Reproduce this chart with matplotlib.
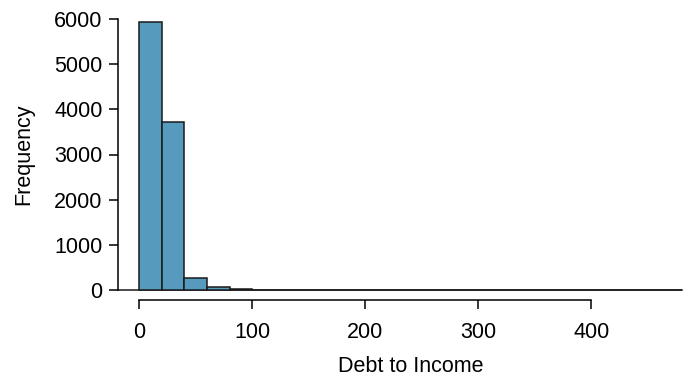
import numpy as np
import matplotlib
matplotlib.use('Agg')
import matplotlib.pyplot as plt

# bins of width 20, 0 .. 480
bin_edges = list(range(0, 500, 20))
counts = [5933, 3726, 272, 70, 22, 10, 6, 4, 3, 2, 2, 1,
          1, 1, 1, 0, 1, 0, 0, 0, 0, 0, 0, 1]
x_ticks = [0, 100, 200, 300, 400]
y_ticks = [0, 1000, 2000, 3000, 4000, 5000, 6000]

plt.rcParams['font.family'] = ['Liberation Sans', 'DejaVu Sans']

W, H = 691, 379
fig = plt.figure(figsize=(W / 100, H / 100), dpi=100)
left, right, top, bottom = 118, 683, 19, 290
ax = fig.add_axes([left / W, 1 - bottom / H, (right - left) / W, (bottom - top) / H])

lefts = np.array(bin_edges[:-1])
ax.bar(lefts, counts, width=20, align='edge', color='#569BBD',
       edgecolor='#1a1a1a', linewidth=1.1, clip_on=False, zorder=3)
ax.plot([-18.6, bin_edges[-1]], [0, 0], color='#1a1a1a', lw=1.1, clip_on=False, zorder=2)

ax.set_xlim(-18.6, 481)
ax.set_ylim(0, 6000)

for s in ['top', 'right']:
    ax.spines[s].set_visible(False)
ax.spines['bottom'].set_position(('outward', 7.2))
ax.spines['bottom'].set_bounds(0, 400)
ax.spines['left'].set_bounds(0, 6000)
for s in ['bottom', 'left']:
    ax.spines[s].set_linewidth(1.1)

ax.set_xticks(x_ticks)
ax.set_yticks(y_ticks)
ax.tick_params(axis='both', labelsize=15.5, length=6.5, width=1.1, colors='black')
ax.tick_params(axis='x', pad=9.5)
ax.tick_params(axis='y', pad=4.5)

ax.set_xlabel('Debt to Income', fontsize=15.5)
ax.xaxis.set_label_coords((411 - left) / (right - left), -(367 - bottom) / (bottom - top))
ax.xaxis.label.set_va('center')
ax.set_ylabel('Frequency', fontsize=15.5)
ax.yaxis.set_label_coords(-(left - 24) / (right - left), 0.5)
ax.yaxis.label.set_va('center')

fig.savefig('out.png', dpi=100)
